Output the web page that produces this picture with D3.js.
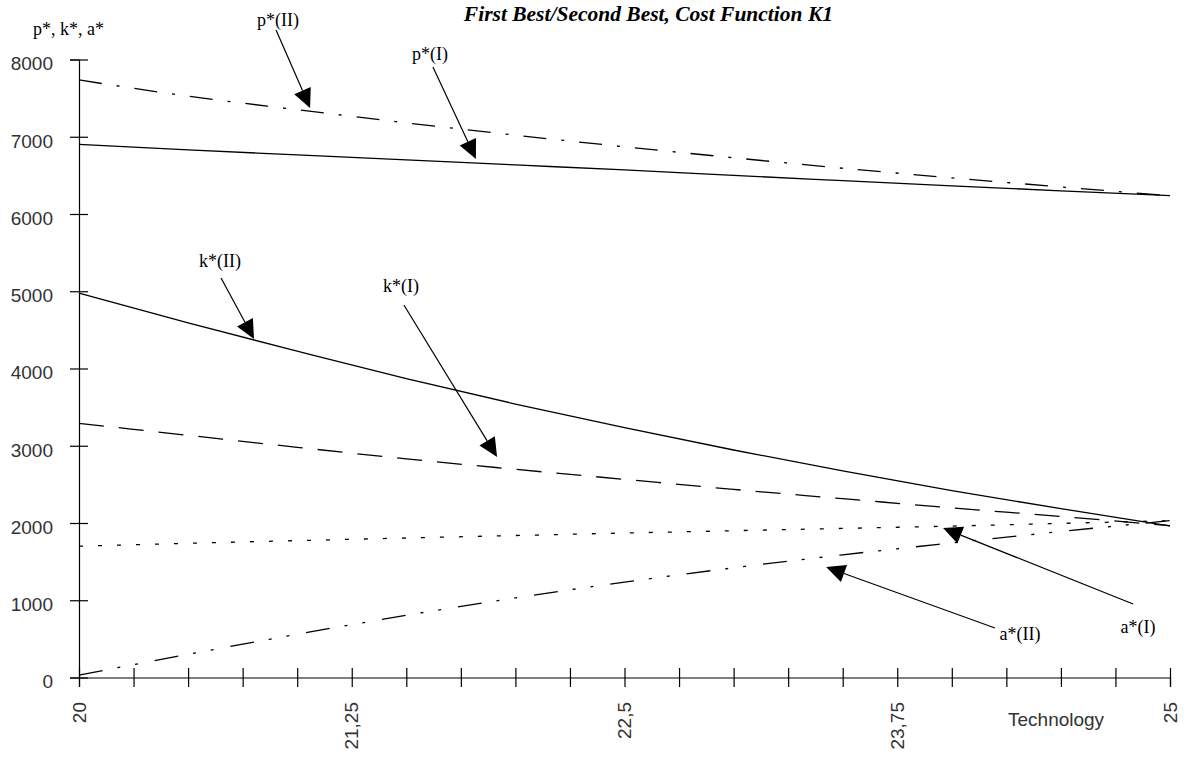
<!DOCTYPE html>
<html>
<head>
<meta charset="utf-8">
<script src="https://cdn.jsdelivr.net/npm/d3@7"></script>
<style>
    body { margin: 0; background: #fff; }
    .axis path, .axis line { stroke: #000; stroke-width: 1.2; }
    .tickLabel { font-family: "Liberation Sans", Arial, sans-serif; fill: #333; }
    .serif { font-family: "Liberation Serif", "Times New Roman", serif; fill: #000; }
</style>
</head>
<body>
<script>
// chart data
var techValues = [20, 20.5, 21, 21.5, 22, 22.5, 23, 23.5, 24, 24.5, 25];

var pII = [7735, 7525, 7350, 7180, 7020, 6870, 6728, 6592, 6468, 6350, 6237];
var pI  = [6900, 6830, 6765, 6700, 6635, 6570, 6500, 6432, 6365, 6300, 6237];
var kII = [4977, 4590, 4225, 3870, 3540, 3235, 2945, 2675, 2420, 2185, 1961];
var kI  = [3290, 3135, 2980, 2830, 2695, 2565, 2435, 2315, 2195, 2085, 1965];
var aI  = [1700, 1737, 1772, 1806, 1838, 1870, 1900, 1930, 1960, 1995, 2030];
var aII = [32, 300, 560, 805, 1030, 1235, 1420, 1588, 1742, 1890, 2030];

var yTicks = [0, 1000, 2000, 3000, 4000, 5000, 6000, 7000, 8000];
var xLabelValues = [20, 21.25, 22.5, 23.75, 25];
var xTickLabels = ["20", "21,25", "22,5", "23,75", "25"];

// annotation arrows: label, label spot, tail and tip, all in (tech, value)
var noteLabels = ["p*(II)", "p*(I)", "k*(II)", "k*(I)", "a*(II)", "a*(I)"];
var noteSpots = [[20.912, 8434], [21.609, 7994], [20.646, 5314], [21.476, 4990], [24.313, 485], [24.853, 576]];
var noteTails = [[20.903, 8382], [21.622, 7903], [20.651, 5172], [21.489, 4822], [24.198, 641], [24.831, 951]];
var noteTips  = [[21.059, 7372], [21.819, 6712], [20.802, 4382], [21.916, 2854], [23.424, 1430], [23.960, 1935]];

window.onload = function () {

    var w = 1190, h = 759;

    var svg = d3.select("body")
        .append("svg")
        .attr("width", w)
        .attr("height", h);

    var x = d3.scaleLinear()
        .domain([20, 25])
        .range([79, 1170]);

    var y = d3.scaleLinear()
        .domain([0, 8000])
        .range([677.5, 59.5]);

    // title
    svg.append("text")
        .attr("class", "serif")
        .attr("x", 833)
        .attr("y", 21)
        .attr("text-anchor", "end")
        .style("font-size", "21.5px")
        .style("font-weight", "bold")
        .style("font-style", "italic")
        .text("First Best/Second Best, Cost Function K1");

    // y axis label
    svg.append("text")
        .attr("class", "serif")
        .attr("x", 33)
        .attr("y", 35)
        .style("font-size", "18px")
        .text("p*, k*, a*");

    // y axis, ticks crossing the axis line
    var yAxis = d3.axisLeft(y)
        .tickValues(yTicks)
        .tickSizeOuter(0)
        .tickSize(9)
        .tickPadding(17)
        .tickFormat(d3.format("d"));

    var gy = svg.append("g")
        .attr("class", "axis")
        .attr("transform", "translate(79,0)")
        .call(yAxis);
    gy.selectAll(".tick line").attr("x1", 9);
    gy.selectAll(".tick text")
        .attr("class", "tickLabel")
        .attr("dy", "0.55em")
        .style("font-size", "19px");

    // x axis
    var xAxis = d3.axisBottom(x)
        .tickValues(d3.range(20, 25.001, 0.25))
        .tickSizeOuter(0)
        .tickSize(9.5)
        .tickFormat("");

    var gx = svg.append("g")
        .attr("class", "axis")
        .attr("transform", "translate(0,677.5)")
        .call(xAxis);
    gx.selectAll(".tick line").attr("y1", -9.5);

    svg.selectAll(".xLabel")
        .data(xLabelValues)
        .enter()
        .append("text")
        .attr("class", "tickLabel xLabel")
        .attr("text-anchor", "end")
        .attr("transform", function (d) {
            return "translate(" + x(d) + ",702) rotate(-90)";
        })
        .attr("dy", "0.35em")
        .style("font-size", "19px")
        .text(function (d, i) {
            return xTickLabels[i];
        });

    svg.append("text")
        .attr("class", "tickLabel")
        .attr("x", 1008)
        .attr("y", 726)
        .style("font-size", "19px")
        .text("Technology");

    // curves
    var series = [
        { values: pII, dash: "23,15,3,15" },
        { values: pI,  dash: null },
        { values: kII, dash: null },
        { values: kI,  dash: "25,15" },
        { values: aI,  dash: "4,15" },
        { values: aII, dash: "24,15,3,15,3,17" }
    ];

    var line = d3.line()
        .x(function (d, i) { return x(techValues[i]); })
        .y(function (d) { return y(d); })
        .curve(d3.curveMonotoneX);

    svg.selectAll(".curve")
        .data(series)
        .enter()
        .append("path")
        .attr("class", "curve")
        .attr("d", function (d) { return line(d.values); })
        .attr("fill", "none")
        .attr("stroke", "#000")
        .attr("stroke-width", 1.3)
        .attr("stroke-dasharray", function (d) { return d.dash; });

    // annotation arrows with filled heads
    var headLen = 19, headHalf = 9;

    noteLabels.forEach(function (label, i) {
        var x0 = x(noteTails[i][0]), y0 = y(noteTails[i][1]);
        var x1 = x(noteTips[i][0]), y1 = y(noteTips[i][1]);
        var dx = x1 - x0, dy = y1 - y0;
        var len = Math.sqrt(dx * dx + dy * dy);
        var ux = dx / len, uy = dy / len;
        var bx = x1 - ux * headLen, by = y1 - uy * headLen;

        svg.append("line")
            .attr("x1", x0).attr("y1", y0)
            .attr("x2", bx).attr("y2", by)
            .attr("stroke", "#000")
            .attr("stroke-width", 1.2);

        svg.append("path")
            .attr("d", "M" + x1 + "," + y1 +
                "L" + (bx - uy * headHalf) + "," + (by + ux * headHalf) +
                "L" + (bx + uy * headHalf) + "," + (by - ux * headHalf) + "Z")
            .attr("fill", "#000");

        svg.append("text")
            .attr("class", "serif")
            .attr("x", x(noteSpots[i][0]))
            .attr("y", y(noteSpots[i][1]))
            .attr("text-anchor", "middle")
            .style("font-size", "18px")
            .text(label);
    });
};
</script>
</body>
</html>
